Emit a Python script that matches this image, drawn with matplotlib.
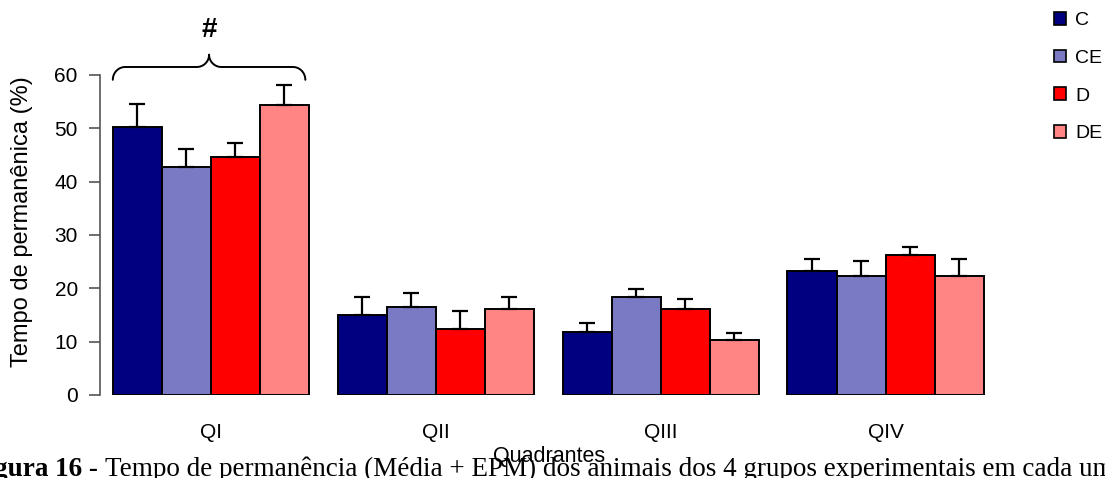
import matplotlib
matplotlib.use("Agg")
import matplotlib.pyplot as plt
import numpy as np
from matplotlib.patches import Patch

quadrants = ["QI", "QII", "QIII", "QIV"]
groups = ["C", "CE", "D", "DE"]
means_C = [50.3, 15.0, 11.9, 23.2]
means_CE = [42.7, 16.5, 18.4, 22.4]
means_D = [44.6, 12.3, 16.1, 26.2]
means_DE = [54.4, 16.1, 10.4, 22.4]
sem_C = [4.2, 3.4, 1.6, 2.3]
sem_CE = [3.4, 2.6, 1.5, 2.7]
sem_D = [2.7, 3.4, 1.9, 1.6]
sem_DE = [3.8, 2.3, 1.2, 3.1]
yticks = [0, 10, 20, 30, 40, 50, 60]

colors = ["#000080", "#7a7ac4", "#ff0000", "#ff8585"]
means = [means_C, means_CE, means_D, means_DE]
sems = [sem_C, sem_CE, sem_D, sem_DE]

SANS = "Liberation Sans"
W, H = 1105, 478
fig = plt.figure(figsize=(W / 100, H / 100), dpi=100)
ax = fig.add_axes([100 / W, 1 - 395 / H, 898 / W, 320 / H])

x = np.arange(len(quadrants))
w = 0.218
for k in range(4):
    pos = x + (k - 1.5) * w
    ax.bar(pos, means[k], width=w, color=colors[k], edgecolor="black",
           linewidth=1.4, zorder=2)
    ax.errorbar(pos, means[k], yerr=[np.zeros(4), sems[k]], fmt="none",
                ecolor="black", elinewidth=1.6, capsize=6, capthick=1.6, zorder=3)

ax.set_xlim(-0.493, 3.5)
ax.set_ylim(0, 60)
ax.set_yticks(yticks)
ax.set_xticks(x)
ax.set_xticklabels(quadrants, fontsize=15, family=SANS)
ax.tick_params(axis="x", length=0, pad=20)
ax.tick_params(axis="y", direction="out", length=8, width=1.2, color="#555555",
               labelsize=15, pad=8)
for lab in ax.get_yticklabels():
    lab.set_family(SANS)
for s in ["top", "right", "bottom"]:
    ax.spines[s].set_visible(False)
ax.spines["left"].set_color("#555555")
ax.spines["left"].set_linewidth(1.2)
ax.set_ylabel("Tempo de permanênica (%)", fontsize=17, family=SANS, va="center")
ax.yaxis.set_label_coords(-(100 - 22) / 898, (395 - 222) / 320)
ax.set_xlabel("Quadrantes", fontsize=15.5, family=SANS)
ax.xaxis.set_label_coords(0.5, -(446 - 395) / 320)

# brace over QI
xl, xr = -0.436, 0.42
xm = (xl + xr) / 2
yb, yh, yt = 59.1, 61.5, 63.8
t = np.linspace(0, np.pi / 2, 25)
dx = 0.055
end_x = dx * (1 - np.cos(t))
end_y = yb + (yh - yb) * np.sin(t)
tip_x = -dx + dx * np.sin(t)
tip_y = yh + (yt - yh) * (1 - np.cos(t))
ax.plot(np.concatenate([xl + end_x, xm + tip_x]), np.concatenate([end_y, tip_y]),
        color="black", lw=1.4, clip_on=False, solid_capstyle="round")
ax.plot(np.concatenate([xr - end_x, xm - tip_x]), np.concatenate([end_y, tip_y]),
        color="black", lw=1.4, clip_on=False, solid_capstyle="round")
ax.text(xm, 68.4, "#", ha="center", va="center", fontsize=20, fontweight="bold",
        family=SANS, clip_on=False)

handles = [Patch(facecolor=c, edgecolor="black", linewidth=1.2) for c in colors]
fig.legend(handles, groups, loc="upper left", bbox_to_anchor=(1046 / W, 1 - 4 / H),
           frameon=False, prop={"family": SANS, "size": 14},
           handlelength=0.65, handleheight=0.65, handletextpad=0.45,
           labelspacing=1.05, borderaxespad=0)

base_y = 1 - 476 / H
cap = fig.text(-30 / W, base_y, "Figura 16 - ", fontsize=19.5,
               family="Liberation Serif", fontweight="bold", ha="left", va="baseline")
fig.canvas.draw()
bb = cap.get_window_extent()
fig.text(bb.x1 / W, base_y,
         "Tempo de permanência (Média + EPM) dos animais dos 4 grupos experimentais em cada um",
         fontsize=19.5, family="Liberation Serif", ha="left", va="baseline")

fig.savefig("out.png", dpi=100)
